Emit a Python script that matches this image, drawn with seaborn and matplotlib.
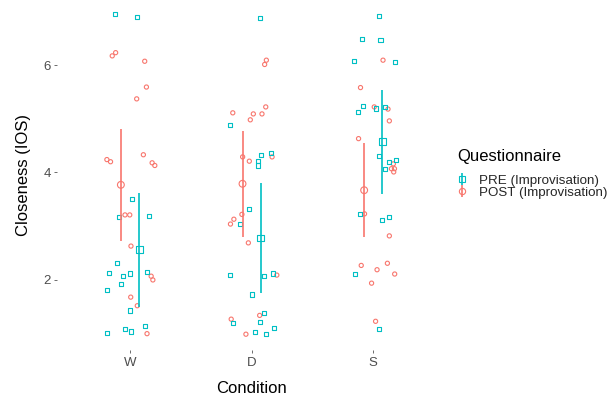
import matplotlib
matplotlib.use('Agg')
import matplotlib.pyplot as plt
import numpy as np
import pandas as pd
import seaborn as sns
from matplotlib.lines import Line2D
from matplotlib.legend_handler import HandlerTuple

# conditions on the x axis
conditions = ["W", "D", "S"]

# individual answers (closeness, IOS), with the
# horizontal jitter of each point (in category units)
pre_w = [6.95, 6.89, 3.51, 3.17, 3.19, 2.31, 2.13, 2.07, 2.12, 2.14, 1.92, 1.81, 1.43, 1.14, 1.08, 1.04, 1.02]
pre_w_dx = [-0.124, 0.058, 0.014, -0.088, 0.155, -0.11, -0.174, -0.058, -0.002, 0.138, -0.077, -0.188, 0.0, 0.124, -0.044, 0.006, -0.188]
post_w = [6.23, 6.17, 6.07, 5.59, 5.37, 4.33, 4.24, 4.20, 4.18, 4.13, 3.21, 3.21, 2.63, 2.07, 2.00, 1.68, 1.52, 1.00]
post_w_dx = [-0.118, -0.146, 0.121, 0.135, 0.055, 0.11, -0.19, -0.16, 0.182, 0.204, -0.041, -0.002, 0.008, 0.174, 0.188, 0.006, 0.06, 0.14]

pre_d = [6.87, 4.88, 4.32, 4.36, 4.21, 4.13, 3.32, 3.04, 2.09, 2.08, 2.12, 1.73, 1.39, 1.20, 1.22, 1.11, 1.03, 0.99]
pre_d_dx = [0.069, -0.176, 0.08, 0.157, 0.052, 0.05, -0.022, -0.099, -0.176, 0.102, 0.174, 0.006, 0.102, -0.151, 0.072, 0.184, 0.027, 0.121]
post_d = [6.09, 6.01, 5.22, 5.11, 5.09, 5.09, 4.98, 4.29, 4.29, 4.21, 3.13, 3.22, 3.04, 2.69, 2.09, 1.34, 1.27, 0.99]
post_d_dx = [0.121, 0.107, 0.116, -0.155, 0.014, 0.085, -0.011, 0.168, -0.074, -0.019, -0.146, -0.08, -0.174, -0.027, 0.207, 0.066, -0.168, -0.047]

pre_s = [6.91, 6.48, 6.47, 6.07, 6.06, 5.23, 5.12, 5.19, 5.22, 4.31, 4.23, 4.20, 4.07, 3.23, 3.12, 3.17, 2.11, 1.09]
pre_s_dx = [0.047, -0.093, 0.06, -0.157, 0.179, -0.085, -0.124, 0.025, 0.099, 0.05, 0.19, 0.132, 0.099, -0.11, 0.069, 0.13, -0.149, 0.05]
post_s = [6.09, 5.58, 5.22, 5.18, 4.96, 4.63, 4.16, 4.07, 4.07, 4.01, 3.23, 2.82, 2.31, 2.27, 2.19, 2.11, 1.94, 1.23]
post_s_dx = [0.08, -0.105, 0.008, 0.121, 0.132, -0.121, 0.165, 0.149, 0.174, 0.168, -0.072, 0.132, 0.116, -0.099, 0.031, 0.176, -0.014, 0.019]

# group means and interval ends as drawn in the picture
pre_mean = [2.57, 2.78, 4.57]
pre_lo = [1.50, 1.75, 3.60]
pre_hi = [3.62, 3.81, 5.54]
post_mean = [3.77, 3.79, 3.67]
post_lo = [2.73, 2.79, 2.79]
post_hi = [4.80, 4.77, 4.55]

PRE_COL = "#00BFC4"
POST_COL = "#F8766D"
DODGE = 0.075

sns.set_theme(style="white")
plt.rcParams['font.family'] = ['Liberation Sans', 'DejaVu Sans']

fig = plt.figure(figsize=(6.13, 3.99), dpi=100)
ax = fig.add_axes([0.093, 0.122, 0.635, 0.878])

groups = [
    (pre_w, pre_w_dx, 0, "PRE"), (post_w, post_w_dx, 0, "POST"),
    (pre_d, pre_d_dx, 1, "PRE"), (post_d, post_d_dx, 1, "POST"),
    (pre_s, pre_s_dx, 2, "PRE"), (post_s, post_s_dx, 2, "POST"),
]
rows = []
for vals, dxs, idx, q in groups:
    for v, dx in zip(vals, dxs):
        rows.append({"x": idx + dx, "y": v, "q": q})
df = pd.DataFrame(rows)

# jittered raw points
for q, col, mk in [("POST", POST_COL, "o"), ("PRE", PRE_COL, "s")]:
    sub = df[df.q == q]
    sns.scatterplot(data=sub, x="x", y="y", marker=mk, s=9, facecolors="none",
                    edgecolor=col, linewidth=0.8, ax=ax, legend=False, zorder=2)

# mean + interval (pointrange)
xs = np.arange(len(conditions))
ax.vlines(xs - DODGE, post_lo, post_hi, color=POST_COL, lw=1.2, zorder=3)
ax.vlines(xs + DODGE, pre_lo, pre_hi, color=PRE_COL, lw=1.2, zorder=3)
sns.scatterplot(x=xs - DODGE, y=post_mean, marker="o", s=24, facecolors="none",
                edgecolor=POST_COL, linewidth=0.8, ax=ax, legend=False, zorder=4)
sns.scatterplot(x=xs + DODGE, y=pre_mean, marker="s", s=24, facecolors="none",
                edgecolor=PRE_COL, linewidth=0.8, ax=ax, legend=False, zorder=4)

ax.set_xlim(-0.6, 2.6)
ax.set_ylim(0.69, 7.21)
ax.set_xticks(xs, conditions)
ax.set_yticks([2, 4, 6], ["2", "4", "6"])
for sp in ax.spines.values():
    sp.set_visible(False)
ax.tick_params(axis="both", length=2.5, width=0.5, color="#333333",
               labelcolor="#4d4d4d", labelsize=9.5, pad=2)
ax.tick_params(axis="both", which="both", bottom=True, left=True)
ax.set_xlabel("Condition", fontsize=12, color="black", labelpad=9)
ax.set_ylabel("Closeness (IOS)", fontsize=12, color="black", labelpad=9)

# legend: title as its own text, keys are a point with a vertical line
fig.text(457 / 613, 1 - 157 / 399, "Questionnaire", fontsize=12,
         ha="left", va="center", color="black")
h_pre = (Line2D([], [], marker="|", ms=8, mew=1.2, color=PRE_COL, ls="none"),
         Line2D([], [], marker="s", ms=4.5, mfc="none", mec=PRE_COL, mew=0.8, ls="none"))
h_post = (Line2D([], [], marker="|", ms=8, mew=1.2, color=POST_COL, ls="none"),
          Line2D([], [], marker="o", ms=4.5, mfc="none", mec=POST_COL, mew=0.8, ls="none"))
fig.legend([h_pre, h_post], ["PRE (Improvisation)", "POST (Improvisation)"],
           handler_map={tuple: HandlerTuple(ndivide=1, pad=0)},
           loc="center left", bbox_to_anchor=(455 / 613, 1 - 186.5 / 399),
           frameon=False, fontsize=9.6, handlelength=1.0, handletextpad=0.8,
           labelspacing=0.0, borderpad=0, borderaxespad=0)

fig.savefig("out.png", dpi=100, facecolor="white")
